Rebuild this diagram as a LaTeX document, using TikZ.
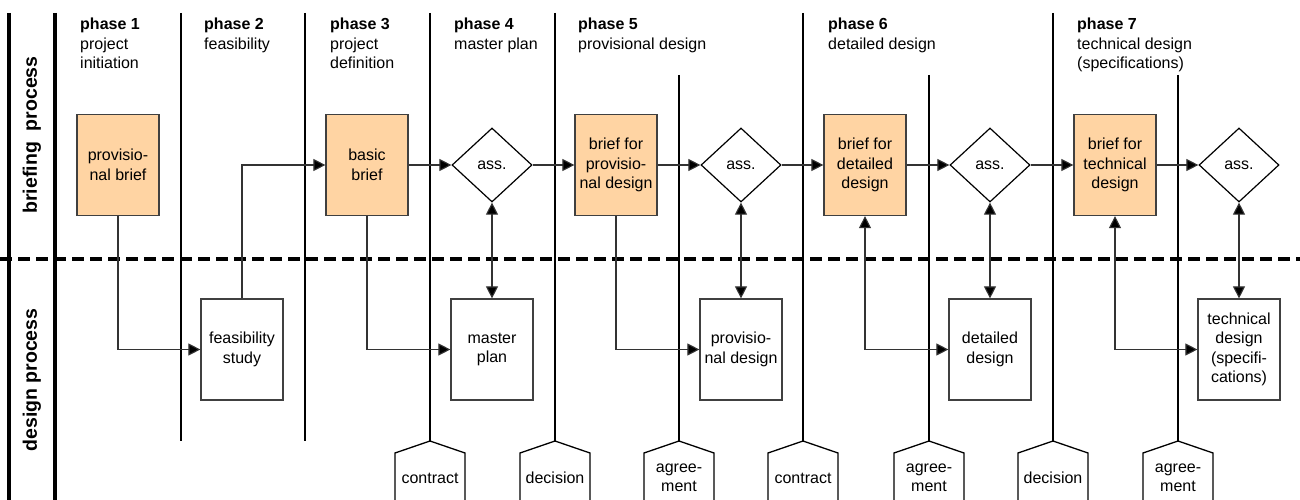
\documentclass[tikz,border=0pt]{standalone}
\usepackage{fontspec}
\setmainfont{Liberation Sans}
\usetikzlibrary{arrows.meta,shapes.geometric,positioning}
\definecolor{briefcol}{RGB}{255,212,163}
\tikzset{
  box/.style={draw=black!75, line width=1.2pt, minimum width=82pt, minimum height=101pt,
    inner sep=0pt, align=center},
  brief/.style={box, fill=briefcol},
  work/.style={box, fill=white},
  ass/.style={diamond, draw, line width=1.2pt, minimum width=80pt, minimum height=74pt,
    inner sep=0pt, fill=white},
  flow/.style={draw=black!80, line width=1.1pt, -{Triangle[length=12pt,width=12pt,fill=black]}},
  flowboth/.style={flow, {Triangle[length=12pt,width=12pt,fill=black]}-{Triangle[length=12pt,width=12pt,fill=black]}},
  phaseline/.style={line width=2.6pt},
  frameline/.style={line width=3.4pt},
  gate/.style={line width=1.3pt},
  phasetext/.style={anchor=north west, inner sep=0pt, align=left},
  sidetext/.style={rotate=90, font=\fontsize{19.5}{22}\selectfont\bfseries}
}
\begin{document}
\begin{tikzpicture}[x=1pt, y=-1pt, font=\fontsize{16}{19.5}\selectfont]
    \useasboundingbox (0,0) rectangle (1300,500);
    \def\top{13}
    \def\low{441}
    \def\sep{259}

    \draw [frameline] (9,\top) -- (9,500) ;
    \draw [frameline] (55,\top) -- (55,500) ;
    \foreach \x in {181,305,430,555,803,1053} \draw [phaseline] (\x,\top) -- (\x,\low) ;
    \foreach \x in {679,929,1178} \draw [phaseline] (\x,75) -- (\x,\low) ;
    \draw [line width=3.6pt, dash pattern=on 12pt off 6pt] (0,\sep) -- (1300,\sep) ;

    \node [sidetext] (brp) at (32,135) {briefing\ \ process} ;
    \node [sidetext] (dsp) at (32,380) {design process} ;

    \foreach \x/\t [count=\i] in {80/{project\\initiation}, 204/feasibility,
      330/{project\\definition}, 454/{master plan}, 578/{provisional design},
      828/{detailed design}, 1077/{technical design\\(specifications)}}
      \node [phasetext] (ph\i) at (\x,18) {\textbf{phase \i}\\\t} ;

    \foreach \x/\t [count=\i] in {430/contract, 555/decision, 679/{agree-\\ment},
      803/contract, 929/{agree-\\ment}, 1053/decision, 1178/{agree-\\ment}} {
      \draw [gate] (\x-35,501) -- (\x-35,453) -- (\x,\low) -- (\x+35,453) -- (\x+35,501) ;
      \node [align=center, inner sep=0pt] (gt\i) at (\x,478) {\t} ;
    }

    \node [brief] (pb) at (118,165) {provisio-\\nal brief} ;
    \node [brief] (bb) at (367,165) {basic\\brief} ;
    \node [brief] (bp) at (616,165) {brief for\\provisio-\\nal design} ;
    \node [brief] (bd) at (865,165) {brief for\\detailed\\design} ;
    \node [brief] (bt) at (1115,165) {brief for\\technical\\design} ;
    \node [ass] (a1) at (492,165) {ass.} ;
    \node [ass] (a2) at (741,165) {ass.} ;
    \node [ass] (a3) at (990,165) {ass.} ;
    \node [ass] (a4) at (1239,165) {ass.} ;

    \node [work] (fs) at (242,349.5) {feasibility\\study} ;
    \node [work] (mp) at (492,349.5) {master\\plan} ;
    \node [work] (pd) at (741,349.5) {provisio-\\nal design} ;
    \node [work] (dd) at (990,349.5) {detailed\\design} ;
    \node [work] (td) at (1239,349.5) {technical\\design\\(specifi-\\cations)} ;

    \draw [flow] (pb.south) |- (fs.west) ;
    \draw [flow] (fs.north) |- (bb.west) ;
    \draw [flow] (bb.east) -- (a1.west) ;
    \draw [flow] (bb.south) |- (mp.west) ;
    \draw [flowboth] (mp.north) -- (a1.south) ;
    \draw [flow] (a1.east) -- (bp.west) ;
    \draw [flow] (bp.south) |- (pd.west) ;
    \draw [flowboth] (pd.north) -- (a2.south) ;
    \draw [flow] (bp.east) -- (a2.west) ;
    \draw [flow] (a2.east) -- (bd.west) ;
    \draw [flowboth] (bd.south) |- (dd.west) ;
    \draw [flowboth] (dd.north) -- (a3.south) ;
    \draw [flow] (bd.east) -- (a3.west) ;
    \draw [flow] (a3.east) -- (bt.west) ;
    \draw [flowboth] (bt.south) |- (td.west) ;
    \draw [flowboth] (td.north) -- (a4.south) ;
    \draw [flow] (bt.east) -- (a4.west) ;
  \end{tikzpicture}
\end{document}
